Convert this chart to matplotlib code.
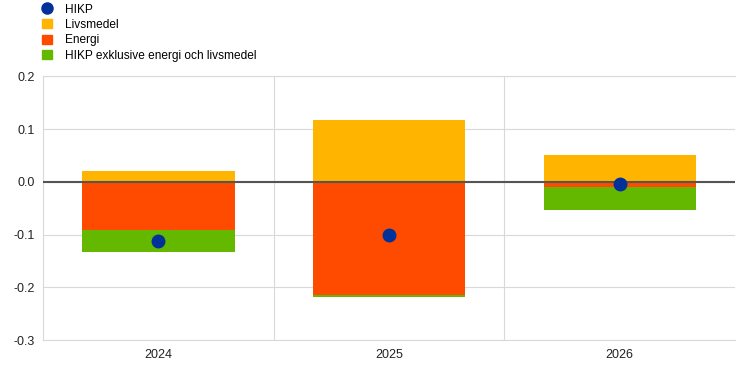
import numpy as np
import matplotlib.pyplot as plt
from matplotlib.lines import Line2D
from matplotlib.patches import Patch

plt.rcParams['font.family'] = ['Liberation Sans', 'DejaVu Sans']

years = ['2024', '2025', '2026']
hikp = [-0.112, -0.100, -0.004]
livsmedel = [0.020, 0.118, 0.050]
energi = [-0.091, -0.214, -0.009]
kärna = [-0.041, -0.004, -0.044]

labels = ['HIKP', 'Livsmedel', 'Energi', 'HIKP exklusive energi och livsmedel']
c_blue = '#003299'
c_yellow = '#FFB400'
c_orange = '#FF4B00'
c_green = '#65B800'

fig = plt.figure(figsize = [7.44, 3.65], dpi = 100)
ax = fig.add_axes([0.058, 0.068, 0.93, 0.723])

x = np.arange(len(years))
w = 0.66
ax.bar(x, livsmedel, w, color = c_yellow, zorder = 2)
ax.bar(x, energi, w, color = c_orange, zorder = 2)
ax.bar(x, kärna, w, bottom = energi, color = c_green, zorder = 2)
ax.axhline(0, color = '#555555', lw = 1.5, zorder = 3)
ax.plot(x, hikp, 'o', color = c_blue, ms = 9, zorder = 4)

ax.set_xlim(-0.5, 2.5)
ax.set_ylim(-0.3, 0.2)
ax.set_yticks(np.arange(-0.3, 0.21, 0.1))
ax.set_yticklabels(['-0.3', '-0.2', '-0.1', '0.0', '0.1', '0.2'])
ax.set_xticks(x)
ax.set_xticklabels(years)
ax.tick_params(length = 0, labelsize = 9, colors = '#222222', pad = 6)
ax.grid(axis = 'y', color = '#d9d9d9', lw = 0.8, zorder = 0)
for xv in [0.5, 1.5]:
    ax.axvline(xv, color = '#d9d9d9', lw = 0.8, zorder = 0)
for s in ax.spines.values():
    s.set_color('#d9d9d9')
    s.set_linewidth(0.8)
ax.spines['right'].set_visible(False)

handles = [
    Line2D([], [], marker = 'o', color = c_blue, ls = 'none', ms = 8),
    Patch(color = c_yellow),
    Patch(color = c_orange),
    Patch(color = c_green),
]
fig.legend(handles, labels, loc = 'upper left', bbox_to_anchor = (0.05, 1.003),
           frameon = False, fontsize = 8.6, handlelength = 0.8, handleheight = 0.8,
           labelspacing = 0.28, handletextpad = 1.1, borderaxespad = 0)

fig.savefig('out.png', dpi = 100)
